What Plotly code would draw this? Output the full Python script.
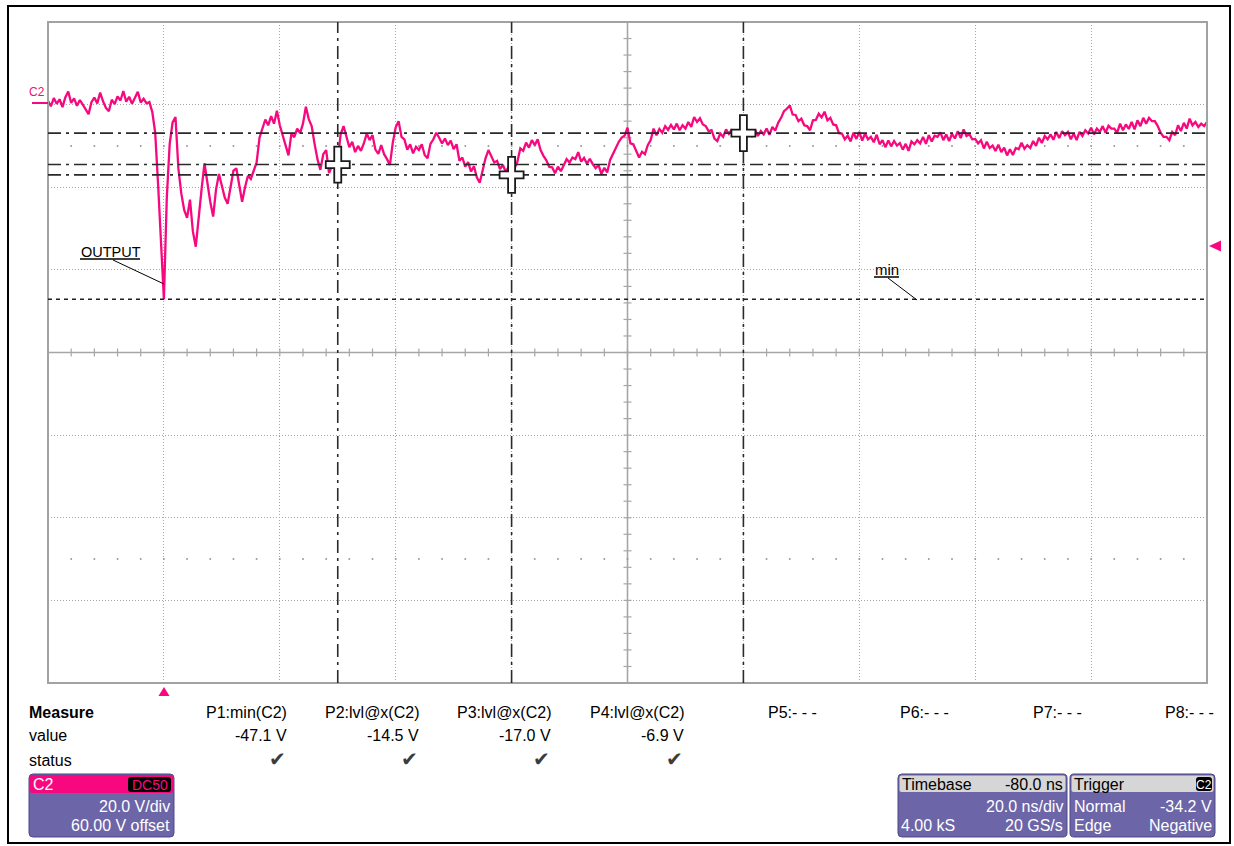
import numpy as np
import plotly.graph_objects as go

# ---------------- data ----------------
t_start_ns = -20.0          # left edge of the record
t_step_ns = 0.5             # sample spacing used for the re-drawn trace
c2_volts = [
    # t = -20 ns
    0.9, -0.4, 1.6, 0.2, 1.3, -0.6, 1.8, 3.2, 0.4, 1.5,
    # t = -15
    -0.3, 1.1, 0.0, -1.2, -2.3, 0.6, 1.7, 0.3, 2.9, 0.8,
    # t = -10
    -0.8, -1.6, 1.2, 0.1, 2.0, 1.0, 3.3, 0.7, 1.9, 0.2,
    # t = -5
    1.6, 3.1, 0.5, 1.4, 0.3, 0.6, -1.8, -6.8, -19.4, -33.0,
    # t = 0
    -47.1, -22.5, -9.5, -4.3, -3.0, -15.5, -21.5, -25.5, -27.4, -23.0,
    # t = 5
    -30.7, -34.4, -27.0, -20.5, -14.2, -18.9, -23.5, -27.1, -20.5, -16.8,
    # t = 10
    -19.8, -22.5, -24.0, -20.0, -16.0, -15.4, -19.5, -23.5, -20.0, -17.2,
    # t = 15
    -18.0, -15.8, -14.0, -8.0, -5.8, -3.6, -5.0, -2.8, -4.6, -1.5,
    # t = 20
    -5.0, -7.6, -10.2, -12.3, -7.0, -7.9, -5.8, -6.9, -4.6, -0.5,
    # t = 25
    -3.5, -5.2, -9.5, -13.2, -15.8, -12.0, -11.0, -16.6, -14.8, -15.2,
    # t = 30
    -13.6, -7.2, -5.2, -8.0, -10.3, -9.0, -11.5, -10.0, -11.2, -9.4,
    # t = 35
    -7.0, -8.6, -7.4, -10.9, -11.9, -9.8, -12.0, -13.2, -14.6, -9.2,
    # t = 40
    -5.5, -4.0, -7.8, -8.4, -10.9, -9.6, -11.8, -10.2, -11.0, -9.6,
    # t = 45
    -12.2, -13.0, -9.5, -8.4, -6.8, -8.0, -9.4, -8.2, -9.8, -8.7,
    # t = 50
    -10.8, -9.6, -13.6, -12.8, -15.0, -13.9, -16.2, -14.9, -17.6, -18.9,
    # t = 55
    -15.7, -13.0, -11.0, -12.6, -14.0, -13.6, -15.6, -14.6, -16.3, -15.0,
    # t = 60
    -17.0, -15.5, -13.8, -10.6, -11.2, -9.2, -10.4, -8.6, -9.8, -8.4,
    # t = 65
    -11.0, -12.4, -13.5, -15.1, -15.2, -16.6, -15.0, -16.1, -14.6, -13.2,
    # t = 70
    -14.0, -12.8, -13.2, -11.5, -13.8, -12.9, -14.3, -13.1, -14.4, -15.4,
    # t = 75
    -14.6, -16.8, -15.3, -16.4, -13.4, -12.0, -10.3, -9.0, -8.0, -7.5,
    # t = 80
    -5.6, -9.4, -9.6, -11.2, -12.8, -11.4, -12.0, -9.8, -8.6, -5.8,
    # t = 85
    -7.4, -5.9, -6.8, -5.2, -6.1, -4.9, -6.0, -4.6, -6.2, -5.0,
    # t = 90
    -5.8, -4.2, -5.4, -3.0, -4.2, -3.3, -4.8, -5.2, -6.4, -6.2,
    # t = 95
    -8.2, -8.8, -7.0, -7.8, -6.0, -7.1, -6.0, -7.6, -6.6, -7.9,
    # t = 100
    -6.9, -8.1, -6.5, -7.8, -6.0, -7.6, -6.4, -7.2, -5.8, -7.3,
    # t = 105
    -5.4, -6.3, -4.4, -3.2, -1.6, -1.0, -0.2, -2.4, -2.5, -4.0,
    # t = 110
    -3.4, -5.0, -5.2, -6.2, -3.8, -3.7, -2.2, -3.1, -1.7, -3.8,
    # t = 115
    -3.2, -4.8, -5.0, -6.9, -7.0, -8.4, -7.5, -8.9, -6.8, -8.3,
    # t = 120
    -6.6, -8.7, -7.0, -8.4, -7.8, -9.1, -7.3, -9.6, -8.6, -10.3,
    # t = 125
    -8.7, -10.1, -8.8, -9.9, -9.3, -10.9, -9.5, -11.2, -8.9, -9.6,
    # t = 130
    -8.6, -9.4, -7.8, -9.5, -7.4, -8.9, -7.5, -7.8, -6.7, -8.6,
    # t = 135
    -7.2, -8.8, -7.1, -8.2, -6.4, -8.1, -6.0, -7.6, -7.2, -8.4,
    # t = 140
    -8.3, -9.4, -8.6, -10.6, -9.0, -10.5, -9.9, -11.2, -9.7, -11.5,
    # t = 145
    -10.4, -12.3, -10.8, -12.2, -10.5, -10.8, -9.2, -10.7, -9.8, -10.5,
    # t = 150
    -8.8, -10.0, -8.0, -9.3, -7.6, -8.4, -7.2, -8.5, -6.6, -8.1,
    # t = 155
    -6.4, -7.4, -6.6, -8.4, -7.0, -8.6, -6.6, -7.6, -6.2, -7.0,
    # t = 160
    -5.6, -7.2, -5.8, -6.6, -5.2, -6.8, -5.1, -5.8, -5.8, -6.8,
    # t = 165
    -4.6, -6.2, -4.8, -5.9, -4.2, -6.0, -3.8, -5.2, -3.2, -4.6,
    # t = 170
    -3.2, -4.0, -4.0, -5.2, -6.8, -7.8, -7.8, -8.6, -6.6, -7.4,
    # t = 175
    -5.0, -6.4, -4.4, -5.8, -3.4, -5.0, -4.2, -5.4, -4.6, -5.2,
    # t = 180
    -4.2,
]

x_range_ns = [-20, 180]
y_range_v = [-140, 20]
ns_per_div = 20
v_per_div = 20
screen_center_ns = 80
screen_center_v = -60

cursor_times_ns = [30, 60, 100]
cursor_levels_v = [-14.5, -17.0, -6.9]
min_level_v = -47.1
trigger_level_v = -34.2
trigger_time_ns = 0
ground_level_v = 0

measure_names = ["P1:min(C2)", "P2:lvl@x(C2)", "P3:lvl@x(C2)", "P4:lvl@x(C2)",
                 "P5:- - -", "P6:- - -", "P7:- - -", "P8:- - -"]
measure_values = ["-47.1 V", "-14.5 V", "-17.0 V", "-6.9 V", "", "", "", ""]
measure_status = [True, True, True, True, False, False, False, False]

channel_box = {"name": "C2", "coupling": "DC50", "scale": "20.0 V/div", "offset": "60.00 V offset"}
timebase_box = {"delay": "-80.0 ns", "scale": "20.0 ns/div", "points": "4.00 kS", "rate": "20 GS/s"}
trigger_box = {"source": "C2", "mode": "Normal", "level": "-34.2 V", "type": "Edge", "slope": "Negative"}

# ---------------- layout geometry ----------------
W, H = 1234, 846
PL, PR, PT, PB = 48, 1207, 22, 683

PINK = "#f7087f"
GRID = "#a6a6a6"
PURPLE = "#6c65a8"
PURPLE_EDGE = "#4d4788"
HEAD_GREY = "#d6d6d6"
FONT = "Liberation Sans, Arial, sans-serif"


def px(x):
    return (x - PL) / (PR - PL)


def py(y):
    return (PB - y) / (PB - PT)


def rrect(x0, y0, x1, y1, r):
    P = lambda x, y: f"{px(x):.5f},{py(y):.5f}"
    return (f"M{P(x0 + r, y0)} L{P(x1 - r, y0)} Q{P(x1, y0)} {P(x1, y0 + r)} "
            f"L{P(x1, y1 - r)} Q{P(x1, y1)} {P(x1 - r, y1)} L{P(x0 + r, y1)} "
            f"Q{P(x0, y1)} {P(x0, y1 - r)} L{P(x0, y0 + r)} Q{P(x0, y0)} {P(x0 + r, y0)} Z")


shapes = []
annotations = []


def txt(x, y, s, anchor="left", size=16, color="black", family=FONT):
    annotations.append(dict(
        xref="paper", yref="paper", x=px(x), y=py(y), text=s, showarrow=False,
        xanchor=anchor, yanchor="middle", font=dict(family=family, size=size, color=color),
        borderpad=0))


def pline(x0, y0, x1, y1, color="black", width=1, dash="solid"):
    shapes.append(dict(type="line", xref="paper", yref="paper", x0=px(x0), y0=py(y0),
                       x1=px(x1), y1=py(y1), line=dict(color=color, width=width, dash=dash),
                       layer="above"))


def ppath(path, fill, line_color=None, width=0):
    shapes.append(dict(type="path", xref="paper", yref="paper", path=path, fillcolor=fill,
                       line=dict(color=line_color or fill, width=width), layer="above"))


fig = go.Figure()

# grid decoration: dotted rows at +/-2.5 div and minor ticks on the centre lines
sub_ns = ns_per_div / 5
sub_v = v_per_div / 5
dot_t = np.arange(x_range_ns[0] + sub_ns, x_range_ns[1], sub_ns)
dot_rows = [screen_center_v + 2.5 * v_per_div, screen_center_v - 2.5 * v_per_div]
fig.add_trace(go.Scatter(
    x=np.concatenate([dot_t for _ in dot_rows]),
    y=np.concatenate([np.full(len(dot_t), r) for r in dot_rows]),
    mode="markers", marker=dict(size=2, color="#9a9a9a"), hoverinfo="skip", showlegend=False))

tick_half_v = 4 * (y_range_v[1] - y_range_v[0]) / (PB - PT)
tick_half_ns = 4 * (x_range_ns[1] - x_range_ns[0]) / (PR - PL)
tx, ty = [], []
for t in np.arange(x_range_ns[0] + sub_ns, x_range_ns[1], sub_ns):
    tx += [t, t, None]
    ty += [screen_center_v - tick_half_v, screen_center_v + tick_half_v, None]
for v in np.arange(y_range_v[0] + sub_v, y_range_v[1], sub_v):
    tx += [screen_center_ns - tick_half_ns, screen_center_ns + tick_half_ns, None]
    ty += [v, v, None]
fig.add_trace(go.Scatter(x=tx, y=ty, mode="lines", line=dict(color=GRID, width=1.2),
                         hoverinfo="skip", showlegend=False))

# centre lines
shapes.append(dict(type="line", xref="x", yref="paper", x0=screen_center_ns, x1=screen_center_ns,
                   y0=0, y1=1, line=dict(color=GRID, width=1.6), layer="below"))
shapes.append(dict(type="line", xref="paper", yref="y", x0=0, x1=1, y0=screen_center_v,
                   y1=screen_center_v, line=dict(color=GRID, width=1.6), layer="below"))

# waveform
t_ns = t_start_ns + t_step_ns * np.arange(len(c2_volts))
fig.add_trace(go.Scatter(x=t_ns, y=c2_volts, mode="lines", line=dict(color=PINK, width=2.3),
                         hoverinfo="skip", showlegend=False))

# plot frame
shapes.append(dict(type="rect", xref="paper", yref="paper", x0=0, x1=1, y0=0, y1=1,
                   line=dict(color="#a2a2a2", width=2), layer="above"))

# min level
shapes.append(dict(type="line", xref="paper", yref="y", x0=0, x1=1, y0=min_level_v, y1=min_level_v,
                   line=dict(color="#202020", width=1.5, dash="4px,4px"), layer="above"))

# cursors
CUR_DASH = "13px,5px,3px,5px"
for t in cursor_times_ns:
    shapes.append(dict(type="line", xref="x", yref="paper", x0=t, x1=t, y0=0, y1=1,
                       line=dict(color="#2a2a2a", width=1.6, dash=CUR_DASH), layer="above"))
for v in cursor_levels_v:
    shapes.append(dict(type="line", xref="paper", yref="y", x0=0, x1=1, y0=v, y1=v,
                       line=dict(color="#2a2a2a", width=1.6, dash=CUR_DASH), layer="above"))

cross = ("M -3.5,18 L 3.5,18 L 3.5,3.5 L 12,3.5 L 12,-3.5 L 3.5,-3.5 L 3.5,-18 "
         "L -3.5,-18 L -3.5,-3.5 L -12,-3.5 L -12,3.5 L -3.5,3.5 Z")
for t, v in zip(cursor_times_ns, cursor_levels_v):
    shapes.append(dict(type="path", xref="x", yref="y", xsizemode="pixel", ysizemode="pixel",
                       xanchor=t, yanchor=v, path=cross, fillcolor="white",
                       line=dict(color="#1a1a1a", width=1.8), layer="above"))

# trace labels
txt(80, 252, "OUTPUT", size=14.5)
pline(80, 259, 140, 259, width=1.5)
pline(113, 260, 164, 284, width=1)
txt(874, 269, "min", size=15)
pline(874, 277, 899, 277, width=1.5)
pline(888, 278, 917, 300, width=1)

# channel label / ground marker
txt(28, 92, "C2", size=12, color=PINK)
pline(32, 103, 48, 103, color=PINK, width=2)

# trigger markers
P = lambda x, y: f"{px(x):.5f},{py(y):.5f}"
ppath(f"M{P(1209, 246)} L{P(1221, 240.5)} L{P(1221, 251.5)} Z", PINK)
ppath(f"M{P(164, 687)} L{P(169.5, 696)} L{P(158.5, 696)} Z", PINK)

# outer border
shapes.append(dict(type="rect", xref="paper", yref="paper", x0=px(8), x1=px(1230), y0=py(6),
                   y1=py(843), line=dict(color="black", width=2), layer="above"))

# measurement table
txt(28, 712, "<b>Measure</b>", size=16)
txt(28, 736, "value", size=16)
txt(28, 760, "status", size=16)
col_right = [288, 420, 552, 685, 818, 950, 1083, 1215]
for xr, name, val, ok in zip(col_right, measure_names, measure_values, measure_status):
    txt(xr, 712, name, anchor="right", size=16)
    if val:
        txt(xr, 736, val, anchor="right", size=16)
    if ok:
        txt(xr - 1, 759, "\u2714", anchor="right", size=20, color="#3c3c3c",
            family="DejaVu Sans, sans-serif")

# channel box
ppath(rrect(29, 774, 174, 837, 4), PURPLE, PURPLE_EDGE, 1)
ppath(rrect(30, 775, 173, 793, 2), PINK)
txt(32, 784, channel_box["name"], size=16, color="white")
ppath(rrect(128, 777, 171, 792, 3), "black")
txt(149.5, 784.5, channel_box["coupling"], anchor="center", size=14, color=PINK)
txt(171, 806, channel_box["scale"], anchor="right", size=16, color="white")
txt(171, 826, channel_box["offset"], anchor="right", size=16, color="white")

# timebase box
ppath(rrect(898, 774, 1067, 837, 4), PURPLE, PURPLE_EDGE, 1)
ppath(rrect(899.5, 775.5, 1065.5, 792, 2), HEAD_GREY)
txt(901, 784, "Timebase", size=16)
txt(1064, 784, timebase_box["delay"], anchor="right", size=16)
txt(1064, 806, timebase_box["scale"], anchor="right", size=16, color="white")
txt(900, 826, timebase_box["points"], size=16, color="white")
txt(1064, 826, timebase_box["rate"], anchor="right", size=16, color="white")

# trigger box
ppath(rrect(1070, 774, 1215, 837, 4), PURPLE, PURPLE_EDGE, 1)
ppath(rrect(1071.5, 775.5, 1213.5, 792, 2), HEAD_GREY)
txt(1073, 784, "Trigger", size=16)
ppath(rrect(1196, 777, 1212, 791, 3), "black")
txt(1204, 784.5, trigger_box["source"], anchor="center", size=12, color="white")
txt(1073, 806, trigger_box["mode"], size=16, color="white")
txt(1213, 806, trigger_box["level"], anchor="right", size=16, color="white")
txt(1073, 826, trigger_box["type"], size=16, color="white")
txt(1213, 826, trigger_box["slope"], anchor="right", size=16, color="white")

fig.update_layout(
    width=W, height=H, margin=dict(l=PL, r=W - PR, t=PT, b=H - PB, pad=0),
    paper_bgcolor="white", plot_bgcolor="white", showlegend=False,
    shapes=shapes, annotations=annotations,
    xaxis=dict(range=x_range_ns, dtick=ns_per_div, tick0=0, showgrid=True, gridcolor=GRID,
               griddash="1px,2px", gridwidth=1, zeroline=False, showticklabels=False,
               ticks="", showline=False, fixedrange=True),
    yaxis=dict(range=y_range_v, dtick=v_per_div, tick0=0, showgrid=True, gridcolor=GRID,
               griddash="1px,2px", gridwidth=1, zeroline=False, showticklabels=False,
               ticks="", showline=False, fixedrange=True),
)

fig.write_html("out.html", config={"displayModeBar": False},
               post_script="document.body.style.margin='0';document.body.style.overflow='hidden';")
